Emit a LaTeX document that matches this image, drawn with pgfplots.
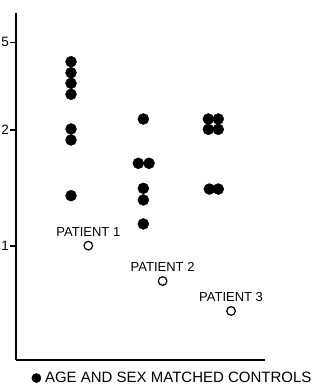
\documentclass[border=0pt]{standalone}
\usepackage{fontspec}
\setmainfont{Liberation Sans}
\usepackage{pgfplots}
\pgfplotsset{compat=1.18}
\begin{document}
\begin{tikzpicture}
\begin{axis}[
  at={(0,0)}, anchor=south west,
  scale only axis,
  width=249bp, height=347bp,
  xmin=0.225, xmax=3.732,
  ymin=0.017, ymax=3.009,
  axis lines=left,
  axis line style={-, line width=1.2bp},
  xtick=\empty,
  ytick={1,2,2.756},
  yticklabels={1,2,5},
  tick align=outside,
  major tick length=6bp,
  tick style={line width=1.1bp, black},
  yticklabel style={inner sep=1bp, font=\fontsize{13.5bp}{15bp}\selectfont},
  /pgf/number format/assume math mode=true,
  clip=false,
  legend style={draw=none, fill=none, at={(0.633,-0.052)}, anchor=center,
    font=\fontsize{15bp}{17bp}\selectfont, inner sep=0pt,
    nodes={inner xsep=4bp, inner ysep=0pt}},
  legend image post style={mark size=4.6bp},
]
\addplot[only marks, mark=*, mark size=5.5bp, black] coordinates {
  (1,2.589) (1,2.494) (1,2.403) (1,2.308) (1,2.009) (1,1.914) (1,1.434)
  (2.018,2.095) (1.948,1.713) (2.099,1.713) (2.018,1.497) (2.018,1.397) (2.018,1.190)
  (2.934,2.095) (3.074,2.095) (2.934,2.006) (3.074,2.006) (2.948,1.491) (3.074,1.491)
};
\addlegendentry{AGE AND SEX MATCHED CONTROLS}
\addplot[only marks, mark=o, mark size=4.3bp, black, mark options={line width=1.2bp},
  point meta=explicit symbolic, nodes near coords,
  every node near coord/.append style={anchor=center, yshift=14bp,
    font=\fontsize{13bp}{15bp}\selectfont, black}] coordinates {
  (1.244,1.003) [PATIENT 1]
  (2.29,0.698) [PATIENT 2]
  (3.254,0.440) [PATIENT 3]
};
\end{axis}
\path[use as bounding box] (-16bp,-30bp) rectangle (311bp,360bp);
\end{tikzpicture}
\end{document}
